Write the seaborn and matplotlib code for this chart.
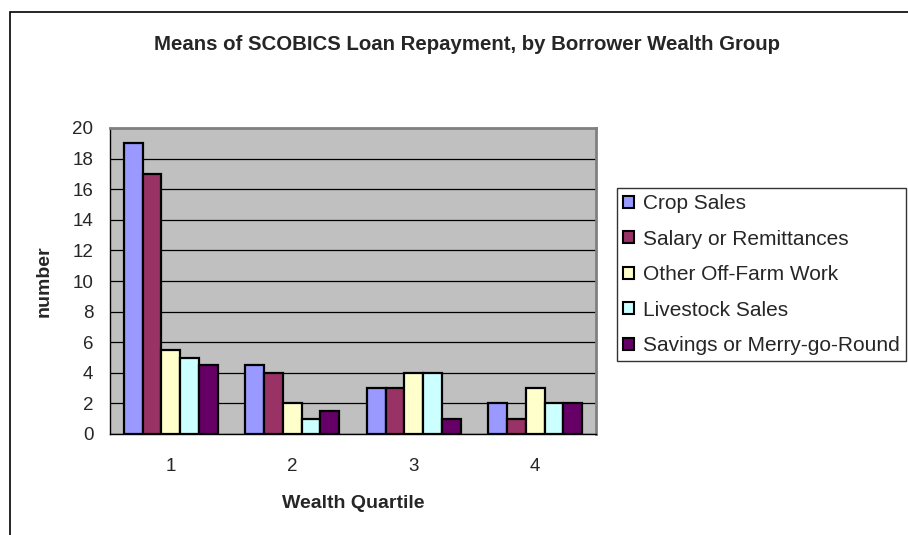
import matplotlib
matplotlib.use("Agg")
import matplotlib.pyplot as plt
import seaborn as sns
import pandas as pd
import numpy as np
from matplotlib.patches import Rectangle, Patch

quartiles = ["1", "2", "3", "4"]
series = ["Crop Sales", "Salary or Remittances", "Other Off-Farm Work",
          "Livestock Sales", "Savings or Merry-go-Round"]
crop_sales = [19, 4.5, 3, 2]
salary = [17, 4, 3, 1]
off_farm = [5.5, 2, 4, 3]
livestock = [5, 1, 4, 2]
savings = [4.5, 1.5, 1, 2]
colors = ["#9999FF", "#993366", "#FFFFCC", "#CCFFFF", "#660066"]

rows = []
for name, vals in zip(series, [crop_sales, salary, off_farm, livestock, savings]):
    for q, v in zip(quartiles, vals):
        rows.append({"Wealth Quartile": q, "number": v, "series": name})
df = pd.DataFrame(rows)

sns.set_style("white")
plt.rcParams["font.family"] = ["Liberation Sans", "DejaVu Sans"]

fig = plt.figure(figsize=(9.08, 5.35), dpi=100)
ax = fig.add_axes([110/908, 1-434/535, 486/908, 306/535])
ax.set_facecolor("#C0C0C0")

sns.barplot(data=df, x="Wealth Quartile", y="number", hue="series",
            hue_order=series, order=quartiles, palette=colors, saturation=1,
            edgecolor="black", linewidth=1.6, width=0.775, ax=ax,
            legend=False, errorbar=None, zorder=3)

ax.set_xlim(-0.5, 3.5)
ax.set_ylim(0, 20)
ax.set_yticks(np.arange(0, 21, 2))
ax.yaxis.grid(True, color="black", linewidth=0.9, zorder=1)
ax.set_axisbelow(True)
ax.set_xticks(range(4))
ax.set_xticklabels(quartiles)
ax.set_xticks(np.arange(-0.5, 4, 1), minor=True)
ax.tick_params(axis="x", which="major", length=0, labelsize=13.5, pad=17)
ax.tick_params(axis="x", which="minor", length=6, width=1, color="black", direction="out")
ax.tick_params(axis="y", length=6, width=1, color="black", direction="out", labelsize=13.5, pad=6)
ax.set_xlabel("Wealth Quartile", fontsize=14, fontweight="bold", labelpad=15)
ax.set_ylabel("number", fontsize=14, fontweight="bold", labelpad=14)
for s in ["left", "bottom"]:
    ax.spines[s].set_color("black")
    ax.spines[s].set_linewidth(1)
for s in ["top", "right"]:
    ax.spines[s].set_color("#808080")
    ax.spines[s].set_linewidth(2)

fig.text(467/908, 1-45/535, "Means of SCOBICS Loan Repayment, by Borrower Wealth Group",
         ha="center", va="center", fontsize=14.7, fontweight="bold")

# outer chart frame
fig.patches.append(Rectangle((10/908, -0.05), 1.0, 1-12/535+0.05,
                             transform=fig.transFigure, fill=False,
                             edgecolor="black", linewidth=1.2))

handles = [Patch(facecolor=c, edgecolor="black", linewidth=1.5) for c in colors]
leg = fig.legend(handles, series, loc="upper left",
                 bbox_to_anchor=(617/908, 1-188/535), fontsize=15,
                 frameon=True, fancybox=False, edgecolor="black",
                 handlelength=0.5, handleheight=0.5, handletextpad=0.45,
                 labelspacing=0.79, borderpad=0.3, borderaxespad=0)
leg.get_frame().set_linewidth(1)

fig.savefig("out.png", dpi=100, facecolor="white")
